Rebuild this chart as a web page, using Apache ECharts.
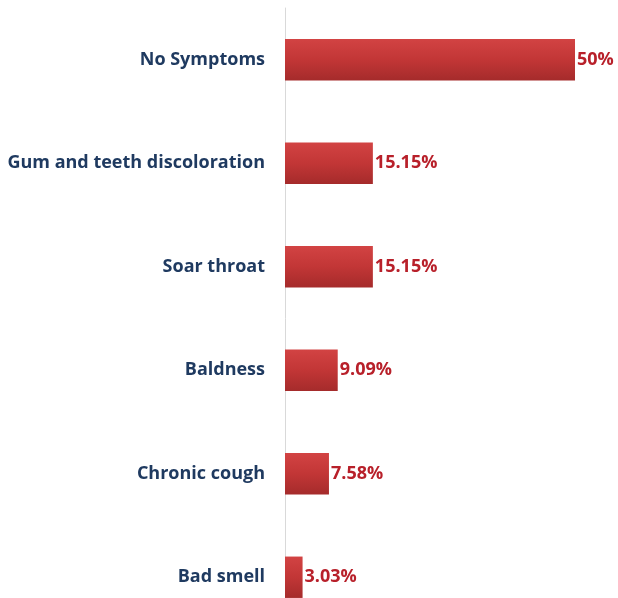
<!DOCTYPE html>
<html>
<head>
<meta charset="utf-8">
<script src="https://cdn.jsdelivr.net/npm/echarts@6/dist/echarts.min.js"></script>
<style>
  html, body { margin: 0; padding: 0; background: #fff; overflow: hidden; }
  #chart { width: 618px; height: 640px; }
</style>
</head>
<body>
<div id="chart"></div>
<script>
// Symptom categories, top to bottom
const categories = [
  'No Symptoms',
  'Gum and teeth discoloration',
  'Soar throat',
  'Baldness',
  'Chronic cough',
  'Bad smell'
];
// Share of respondents (%)
const values = [50, 15.15, 15.15, 9.09, 7.58, 3.03];
const valueLabels = ['50%', '15.15%', '15.15%', '9.09%', '7.58%', '3.03%'];

const chart = echarts.init(document.getElementById('chart'), null, { renderer: 'canvas' });

chart.setOption({
  animation: false,
  grid: { left: 285, width: 290, top: 8, height: 621 },
  xAxis: {
    type: 'value', min: 0, max: 50,
    show: false
  },
  yAxis: {
    type: 'category',
    inverse: true,
    data: categories,
    axisLine: { show: true, lineStyle: { color: '#d9d9d9', width: 1 } },
    axisTick: { show: false },
    axisLabel: {
      margin: 20,
      color: '#1f3a60',
      fontWeight: 'bold',
      fontSize: 18,
      fontFamily: 'Open Sans'
    }
  },
  series: [{
    type: 'bar',
    data: values,
    barWidth: '40%',
    itemStyle: {
      color: new echarts.graphic.LinearGradient(0, 0, 0, 1, [
        { offset: 0, color: '#d24343' },
        { offset: 0.5, color: '#c23636' },
        { offset: 1, color: '#a52b2b' }
      ])
    },
    label: {
      show: true,
      position: 'right',
      distance: 2,
      color: '#b8202a',
      fontWeight: 'bold',
      fontSize: 18,
      fontFamily: 'Open Sans',
      formatter: p => valueLabels[p.dataIndex]
    }
  }]
});
</script>
</body>
</html>
